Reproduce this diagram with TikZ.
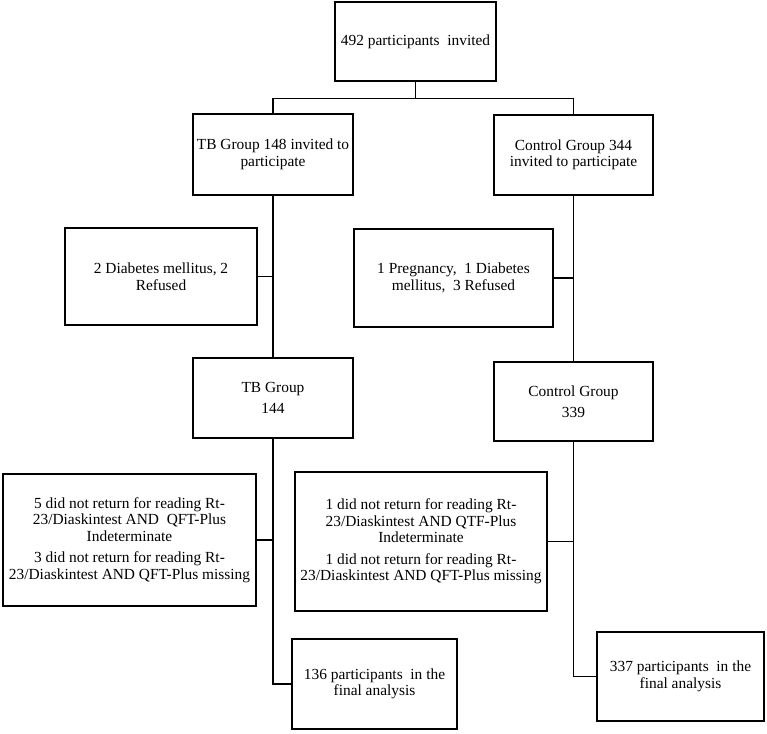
\documentclass[tikz,border=0pt]{standalone}
\usepackage{fontspec}
\setmainfont{Liberation Serif}
\begin{document}
\begin{tikzpicture}[x=1pt,y=-1pt,
  box/.style={draw, line width=1.5pt, align=center, inner sep=0pt,
    font=\fontsize{15.4}{16.5}\selectfont},
  link/.style={line width=1.5pt}]
\useasboundingbox (0,0) rectangle (767,733);
\node[box, minimum width=161pt, minimum height=79pt] (top) at (415.5,41.5) {492 participants\ \ invited};
\node[box, minimum width=160pt, minimum height=81pt] (tb1) at (273,154.5) {TB Group 148 invited to\\participate};
\node[box, minimum width=159pt, minimum height=80pt] (c1) at (573.5,155) {Control Group 344\\invited to participate};
\node[box, minimum width=192pt, minimum height=97pt] (ex1) at (161,276.5) {2 Diabetes mellitus, 2\\Refused};
\node[box, minimum width=199pt, minimum height=98pt] (ex2) at (453.5,278) {1 Pregnancy,\ \ 1 Diabetes\\mellitus,\ \ 3 Refused};
\node[box, minimum width=160pt, minimum height=80pt] (tb2) at (273,398) {TB Group\\[5pt]144};
\node[box, minimum width=159pt, minimum height=79pt] (c2) at (573.5,401.5) {Control Group\\[5pt]339};
\node[box, minimum width=253pt, minimum height=132pt] (ex3) at (129.5,540) {5 did not return for reading Rt-\\23/Diaskintest AND\ \ QFT-Plus\\Indeterminate\\[5pt]3 did not return for reading Rt-\\23/Diaskintest AND QFT-Plus missing};
\node[box, minimum width=252pt, minimum height=139pt] (ex4) at (421,541.5) {1 did not return for reading Rt-\\23/Diaskintest AND QTF-Plus\\Indeterminate\\[5pt]1 did not return for reading Rt-\\23/Diaskintest AND QFT-Plus missing};
\node[box, minimum width=165pt, minimum height=90pt] (f1) at (374.5,684) {136 participants\ \ in the\\final analysis};
\node[box, minimum width=167pt, minimum height=89pt] (f2) at (680.5,676.5) {337 participants\ \ in the\\final analysis};
\draw[link] (top.south) -- ++(0,17) coordinate (j);
\draw[link] (tb1.north) |- (j) -| (c1.north);
\draw[link] (tb1.south) -- (tb2.north);
\draw[link] (c1.south) -- (c2.north);
\draw[link] (ex1.east) -- (ex1.east -| tb1.south);
\draw[link] (ex2.east) -- (ex2.east -| c1.south);
\draw[link] (tb2.south) |- (f1.west);
\draw[link] (c2.south) |- (f2.west);
\draw[link] (ex3.east) -- (ex3.east -| tb2.south);
\draw[link] (ex4.east) -- (ex4.east -| c2.south);
\end{tikzpicture}
\end{document}
